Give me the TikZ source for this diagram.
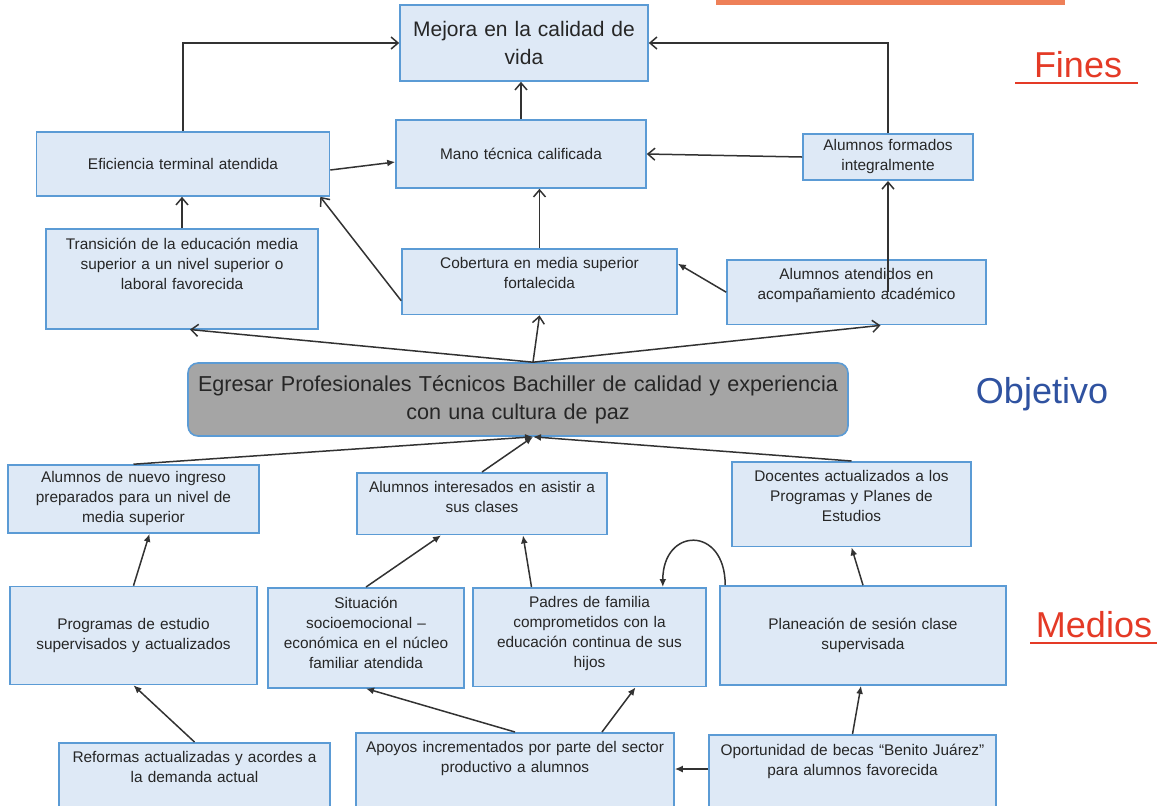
\documentclass[tikz,border=0pt]{standalone}
\usepackage{fontspec}
\setmainfont{Liberation Sans}
\usetikzlibrary{arrows.meta}
\definecolor{boxfill}{RGB}{222,233,246}
\definecolor{boxline}{RGB}{91,155,213}
\definecolor{goalfill}{RGB}{165,165,165}
\definecolor{inkgray}{RGB}{50,50,50}
\definecolor{finesred}{RGB}{228,58,38}
\definecolor{objblue}{RGB}{47,82,160}
\definecolor{barorange}{RGB}{238,128,88}

\begin{document}
\begin{tikzpicture}[x=0.5pt, y=-0.5pt, line width=0.75pt,
  main/.style={draw=boxline, fill=boxfill, line width=0.8pt, align=center, inner sep=3pt, text=black!85, font=\fontsize{7.7}{10}\selectfont},
  tall/.style={main, anchor=north, inner ysep=4.5pt, text depth=#1},
  goal/.style={main, fill=goalfill, rounded corners=5pt, text=black!85, font=\fontsize{10.8}{14}\selectfont},
  openarrow/.style={draw=inkgray, -{Straight Barb[length=3.5pt,width=6pt]}},
  solidarrow/.style={draw=inkgray, -{Latex[length=4pt,width=3.5pt]}},
  side/.style={font=\fontsize{18}{20}\selectfont, anchor=base}]
      \useasboundingbox (0,0) rectangle (1160,805);
      \fill[barorange] (716,0) rectangle (1065,5);

      \node[main, font=\fontsize{10.5}{14}\selectfont, text width=118pt, minimum height=38pt] (mejora) at (524,43) {Mejora en la calidad de\\vida};
      \node[main, text width=140.5pt, minimum height=32pt] (eficiencia) at (183,164) {Eficiencia terminal atendida};
      \node[main, text width=119pt, minimum height=34pt] (mano) at (521,154) {Mano técnica calificada};
      \node[main, text width=79pt, minimum height=23pt] (formados) at (888,157) {Alumnos formados\\integralmente};
      \node[tall=35.3pt, text width=130pt] (transicion) at (182,228) {Transición de la educación media\\superior a un nivel superior o\\laboral favorecida};
      \node[tall=18.3pt, text width=131.5pt] (cobertura) at (539.5,248) {Cobertura en media superior\\fortalecida};
      \node[tall=17.8pt, text width=123.5pt] (atendidos) at (856.5,259) {Alumnos atendidos en\\acompañamiento académico};

      \node[goal, text width=324pt, minimum height=36.5pt] (egresar) at (518,399.5) {Egresar Profesionales Técnicos Bachiller de calidad y experiencia\\con una cultura de paz};
      \coordinate (egtop) at ([xshift=7.5pt]egresar.north);
      \coordinate (egbot) at ([xshift=7.5pt]egresar.south);

      \node[main, text width=119.5pt, minimum height=34pt] (nuevo) at (133.5,499) {Alumnos de nuevo ingreso\\preparados para un nivel de\\media superior};
      \node[tall=16.3pt, text width=119pt] (interesados) at (482,472) {Alumnos interesados en asistir a\\sus clases};
      \node[tall=27.8pt, text width=113.5pt] (docentes) at (851.5,461) {Docentes actualizados a los\\Programas y Planes de\\Estudios};
      \node[main, text width=117.5pt, minimum height=49pt] (programas) at (133.5,635.5) {Programas de estudio\\supervisados y actualizados};
      \node[tall=35.3pt, text width=92pt] (situacion) at (366,587) {Situación\\socioemocional --\\económica en el núcleo\\familiar atendida};
      \node[tall=34.8pt, text width=110.5pt] (padres) at (589.5,587) {Padres de familia\\comprometidos con la\\educación continua de sus\\hijos};
      \node[main, text width=137pt, minimum height=49.5pt] (planeacion) at (863,635.5) {Planeación de sesión clase\\supervisada};
      \node[tall=40pt, text width=129.5pt] (reformas) at (194.5,742) {Reformas actualizadas y acordes a\\la demanda actual};
      \node[tall=40pt, text width=153pt] (apoyos) at (515,732) {Apoyos incrementados por parte del sector\\productivo a alumnos};
      \node[tall=40pt, text width=137.5pt] (becas) at (852.5,734) {Oportunidad de becas “Benito Juárez”\\para alumnos favorecida};

      \node[side, text=finesred] (fines) at (1078,77) {Fines};
      \node[side, text=objblue] (objetivo) at (1042,403) {Objetivo};
      \node[side, text=finesred] (medios) at (1094,637) {Medios};
      \draw[finesred, line width=0.9pt] (1015,83) -- (1138,83);
      \draw[finesred, line width=0.9pt] (1030,643) -- (1157,643);

      \draw[openarrow] (eficiencia.north) |- (mejora.west);
      \draw[openarrow] (formados.north) |- (mejora.east);
      \draw[solidarrow] ([xshift=3pt]planeacion.north west) .. controls +(0,-60) and +(0,-60) .. ([xshift=-22pt]padres.north east);
      \path
      (mano.north) edge[openarrow] (mano.north |- mejora.south)
      ([yshift=-3pt]eficiencia.east) edge[solidarrow] ([yshift=-4pt]mano.west)
      (formados.west) edge[openarrow] (mano.east)
      (transicion.north) edge[openarrow] (transicion.north |- eficiencia.south)
      (cobertura.north) edge[openarrow] (cobertura.north |- mano.south)
      ([yshift=-9.5pt]cobertura.west) edge[openarrow] ([xshift=-5pt]eficiencia.south east)
      (formados.south |- atendidos.center) edge[openarrow] (formados.south)
      (atendidos.west) edge[solidarrow] ([yshift=9pt]cobertura.east)
      (egtop) edge[openarrow] (cobertura.south)
      (egtop) edge[openarrow] ([xshift=4pt]transicion.south)
      (egtop) edge[openarrow] ([xshift=12pt]atendidos.south)
      (nuevo.north) edge[solidarrow] (egbot)
      (interesados.north) edge[solidarrow] (egbot)
      (docentes.north) edge[solidarrow] (egbot)
      (programas.north) edge[solidarrow] ([xshift=8pt]nuevo.south)
      (situacion.north) edge[solidarrow] ([xshift=-20.5pt]interesados.south)
      ([xshift=-29pt]padres.north) edge[solidarrow] ([xshift=20.5pt]interesados.south)
      (planeacion.north) edge[solidarrow] (docentes.south)
      (reformas.north) edge[solidarrow] (programas.south)
      (apoyos.north) edge[solidarrow] (situacion.south)
      ([xshift=43.5pt]apoyos.north) edge[solidarrow] ([xshift=23pt]padres.south)
      ([yshift=-17.5pt]becas.north west) edge[solidarrow] ([yshift=-18.5pt]apoyos.north east)
      (becas.north) edge[solidarrow] ([xshift=-1pt]planeacion.south)
      ;
\end{tikzpicture}
\end{document}
